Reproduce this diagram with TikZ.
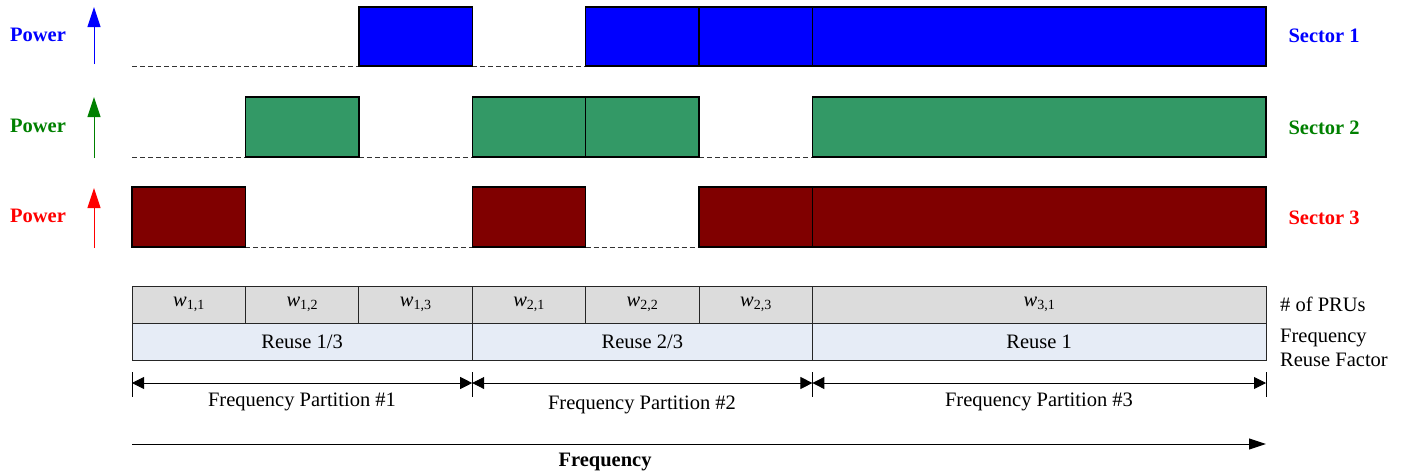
\documentclass[tikz,border=0pt]{standalone}
\usepackage{fontspec}
\setmainfont{Liberation Serif}
\usetikzlibrary{arrows.meta}
\definecolor{sgreen}{HTML}{339966}
\definecolor{dred}{HTML}{800000}
\definecolor{lblgreen}{HTML}{008000}
\definecolor{cellgray}{HTML}{DCDCDC}
\definecolor{cellblue}{HTML}{E6ECF6}
\newcommand{\fs}{\fontsize{20.5}{24}\selectfont}
\newcommand{\wsub}[1]{\textit{w}\raisebox{-0.35ex}{\fontsize{14}{14}\selectfont #1}}
\tikzset{
  bar/.style={inner sep=0pt, outer sep=0pt, anchor=north west, minimum width=113.4pt},
  b1/.style={bar, fill=blue, minimum height=59pt},
  b2/.style={bar, fill=sgreen, minimum height=60pt},
  b3/.style={bar, fill=dred, minimum height=60pt},
  wide/.style={minimum width=453.6pt},
  edge/.style={draw=black, line width=1.4pt},
  base/.style={draw=black!80, dashed, dash pattern=on 5pt off 3pt, line width=0.9pt},
  plabel/.style={font=\fs\bfseries},
  parrow/.style={line width=1pt, -{Triangle[length=20pt,width=13pt]}},
  cellA/.style={draw=black!85, line width=0.9pt, fill=cellgray, inner sep=0pt, outer sep=0pt, anchor=north west, minimum width=113.4pt, minimum height=37pt, font=\fs},
  cellB/.style={draw=black!85, line width=0.9pt, fill=cellblue, inner sep=0pt, outer sep=0pt, anchor=north west, minimum width=340.2pt, minimum height=37pt, font=\fs},
  part/.style={draw=black, line width=0.9pt, {Triangle[length=12pt,width=12pt]}-{Triangle[length=12pt,width=12pt]}},
  tick/.style={draw=black, line width=0.9pt},
  txt/.style={font=\fs, inner sep=0pt},
}
\begin{document}
\begin{tikzpicture}[x=1pt,y=-1pt]
\useasboundingbox (0,0) rectangle (1409,474);

% ---------- Sector 1 ----------
\node[b1] (s1a) at (358.8,7) {};
\node[b1] (s1b) at (585.6,7) {};
\node[b1] (s1c) at (699,7) {};
\node[b1,wide] (s1d) at (812.4,7) {};
\coordinate (s1o) at (132,66);
\draw[base] (s1o) -- (s1a.south west);
\draw[base] (s1a.south east) -- (s1b.south west);

% ---------- Sector 2 ----------
\node[b2] (s2a) at (245.4,97) {};
\node[b2] (s2b) at (472.2,97) {};
\node[b2] (s2c) at (585.6,97) {};
\node[b2,wide] (s2d) at (812.4,97) {};
\coordinate (s2o) at (132,157);
\draw[base] (s2o) -- (s2a.south west);
\draw[base] (s2a.south east) -- (s2b.south west);
\draw[base] (s2c.south east) -- (s2d.south west);

% ---------- Sector 3 ----------
\node[b3] (s3a) at (132,187) {};
\node[b3] (s3b) at (472.2,187) {};
\node[b3] (s3c) at (699,187) {};
\node[b3,wide] (s3d) at (812.4,187) {};
\draw[base] (s3a.south east) -- (s3b.south west);
\draw[base] (s3b.south east) -- (s3c.south west);

% outlines on top of all fills
\foreach \n in {s1a,s1b,s1c,s1d,s2a,s2b,s2c,s2d,s3a,s3b,s3c,s3d}
  \draw[edge] (\n.north west) rectangle (\n.south east);

% ---------- Power labels and arrows ----------
\node[plabel, text=blue] (pw1) at (38,35) {Power};
\node[plabel, text=lblgreen] (pw2) at (38,126) {Power};
\node[plabel, text=red] (pw3) at (38,216) {Power};
\coordinate (a1b) at (94,64);  \coordinate (a1t) at (94,7);
\coordinate (a2b) at (94,158); \coordinate (a2t) at (94,97);
\coordinate (a3b) at (94,248); \coordinate (a3t) at (94,188);
\draw[parrow, blue] (a1b) -- (a1t);
\draw[parrow, lblgreen] (a2b) -- (a2t);
\draw[parrow, red] (a3b) -- (a3t);

% ---------- Sector labels ----------
\node[plabel, text=blue, anchor=west] (sec1) at (1285,36) {Sector 1};
\node[plabel, text=lblgreen, anchor=west] (sec2) at (1285,128) {Sector 2};
\node[plabel, text=red, anchor=west] (sec3) at (1285,218) {Sector 3};

% ---------- Table ----------
\node[cellA] (w11) at (132,286) {\wsub{1,1}};
\node[cellA] (w12) at (245.4,286) {\wsub{1,2}};
\node[cellA] (w13) at (358.8,286) {\wsub{1,3}};
\node[cellA] (w21) at (472.2,286) {\wsub{2,1}};
\node[cellA] (w22) at (585.6,286) {\wsub{2,2}};
\node[cellA] (w23) at (699,286) {\wsub{2,3}};
\node[cellA, minimum width=453.6pt] (w31) at (812.4,286) {\wsub{3,1}};
\node[cellB] (r1) at (132,323) {Reuse 1/3};
\node[cellB] (r2) at (472.2,323) {Reuse 2/3};
\node[cellB, minimum width=453.6pt] (r3) at (812.4,323) {Reuse 1};
\node[txt, anchor=west] (prus) at (1280,304) {\# of PRUs};
\node[txt, anchor=west, align=left] (frf) at (1280,348) {Frequency\\Reuse Factor};

% ---------- Frequency partitions ----------
\coordinate (q0) at (132,383);
\coordinate (q1) at (472.2,383);
\coordinate (q2) at (812.4,383);
\coordinate (q3) at (1266,383);
\foreach \c/\x in {t0/132, t1/472.2, t2/812.4, t3/1266} {
  \coordinate (\c u) at (\x,372);
  \coordinate (\c d) at (\x,397);
  \draw[tick] (\c u) -- (\c d);
}
\draw[part] (q0) -- (q1);
\draw[part] (q1) -- (q2);
\draw[part] (q2) -- (q3);
\node[txt] (fp1) at (302,402) {Frequency Partition \#1};
\node[txt] (fp2) at (642,405) {Frequency Partition \#2};
\node[txt] (fp3) at (1039,402) {Frequency Partition \#3};

% ---------- Frequency axis ----------
\coordinate (f0) at (132,444);
\coordinate (f1) at (1266,444);
\draw[line width=1pt, -{Triangle[length=17pt,width=11pt]}] (f0) -- (f1);
\node[font=\fs\bfseries, inner sep=0pt] (freq) at (605,462) {Frequency};
\end{tikzpicture}
\end{document}
